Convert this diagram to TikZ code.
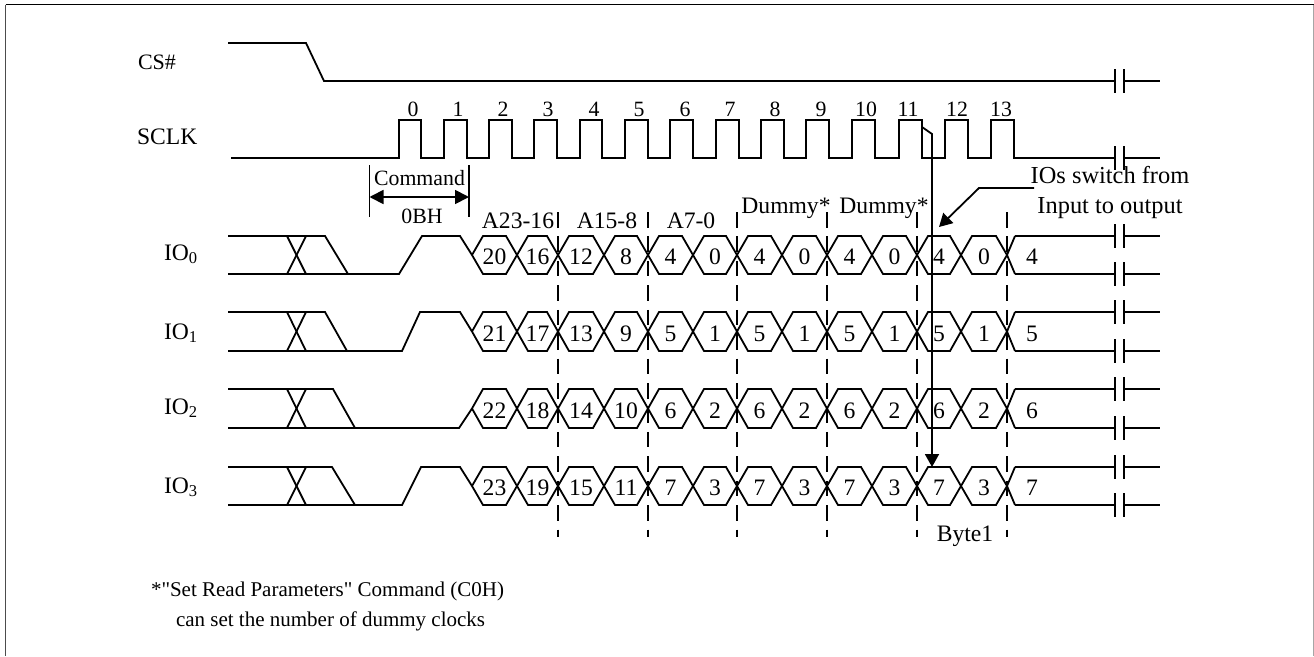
\documentclass[tikz,border=0pt]{standalone}
\usepackage{fontspec}
\setmainfont{Liberation Serif}
\newfontfamily\plainserif{Liberation Serif}
\usetikzlibrary{arrows.meta}
\tikzset{
  x=1pt,y=-1pt,
  sig/.style={line width=1.8pt,line join=miter,black},
  tick/.style={line width=1.8pt,black},
  dashline/.style={line width=1.8pt,black,dash pattern=on 15.5pt off 8.94pt},
  tri/.style={sig,-{Triangle[length=13pt,width=14pt]}},
  tritwo/.style={sig,{Triangle[length=14pt,width=14pt]}-{Triangle[length=14pt,width=14pt]}},
  lab/.style={inner sep=0pt,outer sep=0pt,anchor=base,font=\fontsize{23.6}{26}\selectfont},
  labm/.style={lab,font=\fontsize{21.8}{26}\selectfont},
  labs/.style={lab,anchor=base west,font=\fontsize{21}{24}\plainserif\selectfont},
  labw/.style={lab,anchor=base west},
}
\newcommand{\brk}[1]{%
  \draw[sig] (1085,#1)--(1115,#1);
  \draw[tick] (1115,#1-12)--(1115,#1+12);
  \draw[tick] (1124,#1-12)--(1124,#1+12);
  \draw[sig] (1124,#1)--(1160,#1);
}
% #1 n, #2 top, #3 bottom
\newcommand{\hexrow}[3]{%
  \pgfmathsetmacro{\m}{(#2+#3)/2}
  \draw[sig] (287,#2)--(306,#3);
  \draw[sig] (287,#3)--(306,#2);
  \foreach \a/\b/\v [count=\i] in {472/517/20,517/558/16,558/604/12,604/648/8,648/693/4,693/737/0,737/782/4,782/827/0,827/872/4,872/917/0,917/961/4,961/1007/0}{
    \draw[sig] (\a,\m)--(\a+11,#2)--(\b-11,#2)--(\b,\m)--(\b-11,#3)--(\a+11,#3)--cycle;
    \pgfmathtruncatemacro{\w}{\v+#1}
    \node[lab] (d#1-\i) at ({(\a+\b)/2},#3-10) {\w};
  }
  \draw[sig] (1015,#2)--(1007,\m)--(1015,#3);
  \draw[sig] (1015,#2)--(1085,#2);
  \draw[sig] (1015,#3)--(1085,#3);
  \brk{#2}\brk{#3}
  \pgfmathtruncatemacro{\w}{4+#1}
  \node[lab] (d#1-t) at (1032,#3-10) {\w};
}
\begin{document}
\begin{tikzpicture}
\useasboundingbox (0,0) rectangle (1314,656);
% frame
\draw[line width=1.6pt,black] (5.5,4.5)--(1314,4.5);
\draw[line width=1.4pt,black!70] (5.5,4.5)--(5.5,656);
\draw[line width=1pt,black!35] (1313.5,4.5)--(1313.5,656);

% CS#
\node[labw,font=\fontsize{22}{26}\selectfont] (cs) at (138,69) {CS\#};
\draw[sig] (228,43)--(306,43)--(324,81)--(1085,81);
\brk{81}
% SCLK
\node[labw] (sclk) at (137,144) {SCLK};
\draw[sig] (231,158)--(399,158)--(399,120)--(421,120)--(421,158)
  --(444,158)--(444,120)--(467,120)--(467,158)
  --(489,158)--(489,120)--(512,120)--(512,158)
  --(534,158)--(534,120)--(557,120)--(557,158)
  --(580,158)--(580,120)--(602,120)--(602,158)
  --(625,158)--(625,120)--(648,120)--(648,158)
  --(670,158)--(670,120)--(693,120)--(693,158)
  --(716,158)--(716,120)--(739,120)--(739,158)
  --(761,158)--(761,120)--(784,120)--(784,158)
  --(806,158)--(806,120)--(829,120)--(829,158)
  --(852,158)--(852,120)--(875,120)--(875,158)
  --(899,158)--(899,120)--(922,120)--(922,158)
  --(945,158)--(945,120)--(968,120)--(968,158)
  --(991,158)--(991,120)--(1014,120)--(1014,158)--(1085,158);
\brk{158}
\foreach \x/\t in {413/0,458/1,503/2,548/3,594/4,639/5,685/6,730/7,775/8,821/9,866/10,908/11,957/12,1001/13}
  \node[labm] (c\t) at (\x,116) {\t};

% Command
\draw[tick] (369.5,165)--(369.5,217);
\draw[tick] (469,165)--(469,217);
\draw[tritwo] (369.5,197)--(469,197);
\node[labm] (cmd) at (419.5,185) {Command};
\node[labm] (bh) at (422,223) {0BH};

% Labels above
\node[lab] (a1) at (518,228) {A23-16};
\node[lab] (a2) at (607,228) {A15-8};
\node[lab] (a3) at (691,228) {A7-0};
\node[lab] (dm1) at (786,213) {Dummy*};
\node[lab] (dm2) at (884,213) {Dummy*};
\node[lab,font=\fontsize{24.4}{26}\selectfont] (sw1) at (1110,183) {IOs switch from};
\node[lab,font=\fontsize{24.4}{26}\selectfont] (sw2) at (1110,213) {Input to output};
\draw[tri] (1034,188)--(979,188)--(939,227);

% IO rows
\node[labw] (io0) at (164,260) {IO\textsubscript{0}};
\node[labw] (io1) at (164,339) {IO\textsubscript{1}};
\node[labw] (io2) at (164,414) {IO\textsubscript{2}};
\node[labw] (io3) at (164,493) {IO\textsubscript{3}};

\hexrow{0}{236}{274}
\draw[sig] (228,236)--(325,236)--(348,274);
\draw[sig] (228,274)--(399,274)--(422,236)--(460,236)--(472,255);
\hexrow{1}{312}{351}
\draw[sig] (228,312)--(325,312)--(347,351);
\draw[sig] (228,351)--(402,351)--(420,312)--(460,312)--(472,331.5);
\hexrow{2}{389}{428}
\draw[sig] (228,389)--(333,389)--(355,428);
\draw[sig] (228,428)--(459,428)--(472,408.5);
\hexrow{3}{467}{505}
\draw[sig] (228,467)--(332,467)--(355,505);
\draw[sig] (228,505)--(402,505)--(421,467)--(460,467)--(472,486);

% dashed
\foreach \x in {558,648,737,827,917,1007}
  \draw[dashline] (\x,212)--(\x,537);
% vertical arrow
\draw[tri] (922,127)--(932,134)--(932,467);

\node[lab] (byte) at (965,541) {Byte1};
\node[labs] (n1) at (151,596) {*"Set Read Parameters" Command (C0H)};
\node[labs] (n2) at (176,626) {can set the number of dummy clocks};
\end{tikzpicture}
\end{document}
